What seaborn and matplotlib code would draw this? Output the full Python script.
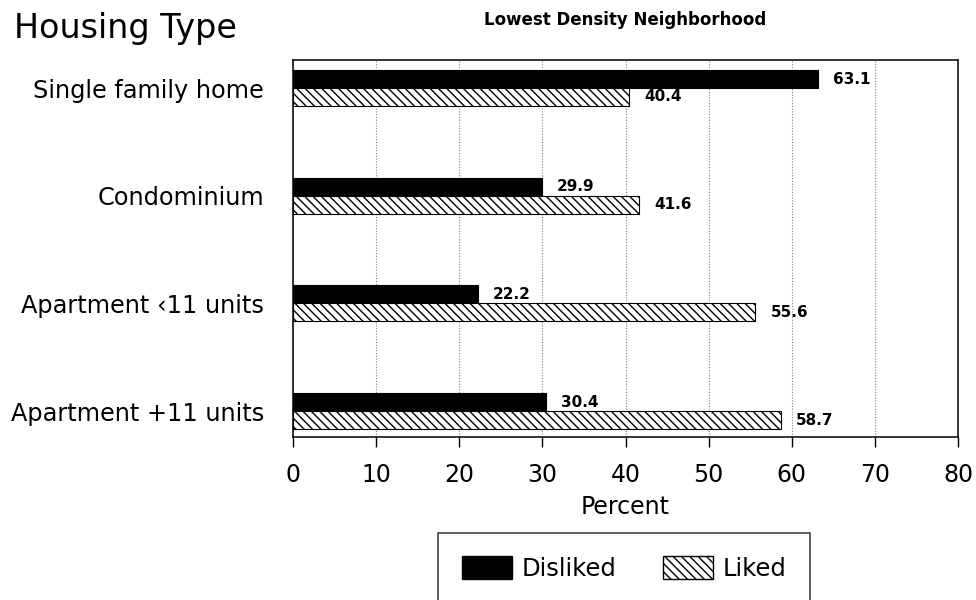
import matplotlib
matplotlib.use("Agg")
import matplotlib.pyplot as plt
from matplotlib.patches import Patch
import seaborn as sns
import pandas as pd

# Chart data
housing_types = ["Single family home", "Condominium",
                 "Apartment \u203911 units", "Apartment +11 units"]
disliked = [63.1, 29.9, 22.2, 30.4]
liked = [40.4, 41.6, 55.6, 58.7]
responses = ["Disliked", "Liked"]
x_ticks = [0, 10, 20, 30, 40, 50, 60, 70, 80]

df = pd.DataFrame({
    "Housing": housing_types * 2,
    "Percent": disliked + liked,
    "Response": ["Disliked"] * len(disliked) + ["Liked"] * len(liked),
})

sns.set_style("ticks", rc={"text.color": "black", "axes.labelcolor": "black",
                           "xtick.color": "black", "ytick.color": "black"})
plt.rcParams["font.family"] = ["DejaVu Sans"]
plt.rcParams["hatch.linewidth"] = 1.0
plt.rcParams["hatch.color"] = "black"

fig = plt.figure(figsize=(9.76, 6), dpi=100)
ax = fig.add_axes([0.3002, 0.2717, 0.6814, 0.6283])

sns.barplot(data=df, x="Percent", y="Housing", hue="Response", orient="h",
            palette={"Disliked": "black", "Liked": "white"},
            width=0.334, edgecolor="black", linewidth=0.8,
            legend=False, ax=ax)

hatch = "\\\\\\\\"
for bar in ax.containers[1]:
    bar.set_hatch(hatch)

# value labels
for cont, vals in zip(ax.containers, [disliked, liked]):
    ax.bar_label(cont, labels=[f"{v:.1f}" for v in vals], padding=11,
                 fontsize=11, fontweight="bold", color="black")

ax.set_xlim(0, 80)
ax.set_ylim(3.24, -0.26)
ax.set_xticks(x_ticks)
ax.tick_params(axis="x", direction="out", length=7.5, width=1.0,
               labelsize=17, pad=11, color="black", labelcolor="black")
ax.tick_params(axis="y", length=0, labelsize=17.3, pad=21, labelcolor="black")
ax.set_xlabel("Percent", fontsize=17, labelpad=6, color="black")
ax.set_ylabel("")
ax.set_title("Lowest Density Neighborhood", fontsize=12,
             fontweight="bold", pad=25, color="black")

ax.xaxis.grid(True, linestyle=(0, (1, 1.5)), color="gray", linewidth=0.8)
ax.set_axisbelow(True)
for s in ax.spines.values():
    s.set_visible(True)
    s.set_color("black")
    s.set_linewidth(1.1)

fig.text(14 / 976, 1 - 38 / 600, "Housing Type", fontsize=24,
         va="baseline", ha="left", color="black")

handles = [Patch(facecolor="black", edgecolor="black"),
           Patch(facecolor="white", edgecolor="black", hatch=hatch)]
leg = fig.legend(handles, responses, loc="upper center",
                 bbox_to_anchor=(624 / 976, 1 - 533 / 600), ncol=2,
                 fontsize=17.5, frameon=True, fancybox=False,
                 handlelength=2.06, handleheight=1.07, handletextpad=0.41,
                 columnspacing=1.9, borderpad=0.95, borderaxespad=0,
                 labelcolor="black")
leg.get_frame().set_edgecolor("black")
leg.get_frame().set_linewidth(1.1)

fig.savefig("out.png", dpi=100)
